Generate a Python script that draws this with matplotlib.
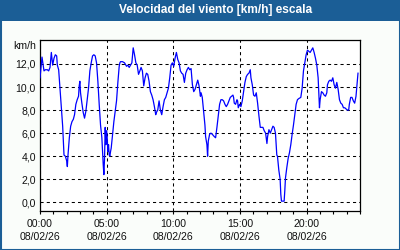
import matplotlib
matplotlib.use("Agg")
import matplotlib.pyplot as plt
from matplotlib.patches import Rectangle
from matplotlib.ticker import MultipleLocator, FixedLocator, FuncFormatter

title = "Velocidad del viento [km/h] escala"
unit_label = "km/h"
date_label = "08/02/26"

hours = [0.00, 0.15, 0.20, 0.30, 0.40, 0.55, 0.65, 0.75, 0.80, 0.85, 0.95, 1.05, 1.15, 1.25, 1.30,
         1.40, 1.50, 1.60, 1.70, 1.80, 1.90, 2.00, 2.05, 2.10, 2.20, 2.30, 2.40, 2.50, 2.59, 2.69,
         2.79, 2.89, 2.94, 2.99, 3.04, 3.14, 3.24, 3.34, 3.44, 3.54, 3.64, 3.74, 3.84, 3.94, 4.04,
         4.14, 4.24, 4.34, 4.44, 4.54, 4.64, 4.74, 4.79, 4.84, 4.89, 4.94, 4.99, 5.04, 5.09, 5.14,
         5.19, 5.24, 5.29, 5.34, 5.44, 5.54, 5.64, 5.74, 5.84, 5.94, 5.99,
         6.04, 6.19, 6.34, 6.49, 6.59, 6.69, 6.79, 6.89, 6.99, 7.09, 7.19, 7.29, 7.39, 7.49, 7.58,
         7.68, 7.78, 7.88, 7.98, 8.08, 8.18, 8.28, 8.38, 8.48, 8.58, 8.68, 8.73, 8.83, 8.93, 9.03,
         9.13, 9.23, 9.33, 9.43, 9.53, 9.63, 9.73, 9.83, 9.93, 10.03, 10.13, 10.23, 10.33, 10.43,
         10.53, 10.63, 10.73, 10.83, 10.93, 11.03, 11.13, 11.23, 11.33, 11.43, 11.53, 11.63, 11.73,
         11.83, 11.93, 12.03, 12.08, 12.17, 12.27, 12.37, 12.42, 12.52, 12.57, 12.62, 12.72, 12.82,
         12.92, 13.07, 13.17, 13.27, 13.37, 13.47, 13.57, 13.67, 13.77, 13.87, 13.97, 14.07, 14.17,
         14.27, 14.37, 14.47, 14.52, 14.57, 14.67, 14.77, 14.82, 14.87, 14.97, 15.07, 15.17, 15.27,
         15.37, 15.47, 15.57, 15.67, 15.77, 15.82, 15.92, 16.02, 16.12, 16.22, 16.32, 16.42, 16.52,
         16.62, 16.72, 16.82, 16.92, 17.02, 17.07, 17.17, 17.27, 17.37, 17.47, 17.56, 17.66, 17.76,
         17.81, 17.91, 18.01, 18.06, 18.11, 18.21, 18.31, 18.36, 18.41, 18.51, 18.61, 18.71, 18.81,
         18.91, 19.01, 19.11, 19.21, 19.31, 19.41, 19.56, 19.66, 19.76, 19.86, 19.96, 20.06, 20.16,
         20.26, 20.36, 20.46, 20.56, 20.66, 20.76, 20.86, 20.91, 20.96, 21.01, 21.11, 21.21, 21.31,
         21.41, 21.51, 21.56, 21.66, 21.76, 21.86, 21.96, 22.06, 22.16, 22.26, 22.36, 22.46, 22.56,
         22.66, 22.76, 22.86, 22.96, 23.05, 23.15, 23.20, 23.30, 23.40, 23.50, 23.60, 23.70, 23.75,
         23.80, 23.85]

wind = [10.8, 12.6, 12.2, 11.4, 11.5, 11.5, 11.4, 11.7, 12.4, 13.0, 11.9, 12.5, 12.8, 12.7, 11.9,
        11.5, 9.9, 8.2, 6.6, 4.1, 4.0, 3.6, 3.1, 4.1, 5.6, 6.6, 7.0, 7.2, 7.6, 8.5,
        8.9, 9.2, 10.1, 10.5, 9.5, 8.6, 7.8, 7.3, 7.9, 8.9, 9.9, 11.4, 12.1, 12.7, 12.8,
        12.7, 12.1, 10.5, 8.5, 6.7, 5.6, 3.3, 2.4, 3.8, 6.5, 5.0, 6.2, 5.6, 4.4, 5.0,
        4.1, 4.0, 4.4, 4.7, 5.9, 7.0, 7.9, 8.8, 10.4, 11.8, 12.1,
        12.2, 12.2, 12.1, 11.8, 11.9, 11.7, 11.9, 12.1, 13.4, 12.8, 12.1, 11.9, 11.1, 11.4, 11.7,
        11.4, 10.1, 10.8, 11.2, 11.1, 10.5, 9.6, 9.3, 8.9, 8.3, 7.6, 7.8, 8.0, 8.8, 8.0,
        7.6, 8.3, 8.9, 9.1, 9.5, 9.9, 10.8, 11.9, 12.1, 11.8, 12.5, 13.0, 12.4, 12.1,
        11.4, 11.2, 11.1, 10.4, 11.2, 11.5, 11.7, 11.5, 11.6, 10.2, 9.6, 9.8, 10.2,
        10.6, 10.1, 9.2, 9.5, 9.1, 7.9, 6.7, 5.7, 5.0, 4.0, 5.3, 5.9, 6.0,
        5.9, 5.7, 5.6, 6.5, 7.5, 8.5, 8.9, 8.9, 8.8, 8.5, 8.3, 8.5, 8.8,
        9.1, 9.2, 9.3, 9.1, 8.6, 8.5, 8.9, 8.8, 8.2, 8.5, 8.3, 8.8, 9.6,
        10.4, 10.9, 11.1, 11.2, 11.5, 10.8, 10.2, 9.3, 9.2, 9.5, 8.6, 7.5, 6.5,
        6.5, 6.5, 6.2, 6.0, 5.1, 5.7, 6.3, 6.0, 6.3, 6.6, 6.5, 6.0, 4.1,
        4.0, 2.8, 2.0, 0.7, 0.1, 0.1, 0.1, 1.0, 2.1, 3.0, 3.8, 4.3, 5.0,
        5.9, 6.7, 7.6, 8.5, 8.9, 9.0, 9.1, 9.9, 11.4, 12.1, 12.8, 13.2, 13.1,
        13.0, 13.2, 13.4, 13.0, 12.5, 11.9, 10.8, 9.6, 8.2, 8.9, 9.6, 9.5, 9.3,
        9.2, 9.5, 10.2, 10.5, 10.6, 10.5, 10.8, 10.2, 9.9, 10.4, 9.8, 8.9, 8.6,
        8.5, 8.2, 8.2, 8.1, 8.0, 8.0, 8.5, 9.1, 9.1, 8.8, 8.6, 9.2, 9.9,
        10.6, 11.2]

major_hours = [0, 5, 10, 15, 20]
y_ticks = [0, 2, 4, 6, 8, 10, 12]

FONT = "Liberation Sans"
W, H = 400, 250
fig = plt.figure(figsize=(4, 2.5), dpi=100, facecolor="#fafdfa")

# title bar and border
fig.patches.append(Rectangle((0, 1 - 20.5 / H), 1, 20.5 / H, transform=fig.transFigure,
                             facecolor="#1b5e96", edgecolor="none", zorder=0))
fig.patches.append(Rectangle((0.5 / W, 0.5 / H), 1 - 1.0 / W, 1 - 1.0 / H, transform=fig.transFigure,
                             facecolor="none", edgecolor="#1b5e96", linewidth=1.5, zorder=1))
fig.text(216 / W, 1 - 10.5 / H, title, color="white", fontsize=8.6, fontweight="bold",
         family=FONT, ha="center", va="center")

ax = fig.add_axes([40 / W, 1 - 210.7 / H, 320 / W, 170.7 / H])
ax.set_facecolor("white")
ax.plot(hours, wind, color="#0000ff", linewidth=0.9, zorder=3)

ax.set_xlim(0, 24)
ax.set_ylim(-0.73, 14.08)

ax.xaxis.set_major_locator(FixedLocator(major_hours))
ax.xaxis.set_minor_locator(MultipleLocator(1))
ax.xaxis.set_major_formatter(FuncFormatter(lambda v, p: f"{int(round(v)):02d}:00\n{date_label}"))
ax.yaxis.set_major_locator(FixedLocator(y_ticks))
ax.yaxis.set_major_formatter(FuncFormatter(lambda v, p: f"{v:.1f}".replace(".", ",")))

ax.tick_params(axis="x", which="both", direction="out", length=2.5, width=0.8, colors="black",
               labelsize=7.6, pad=3.5)
ax.tick_params(axis="y", which="both", length=0, labelsize=7.6, pad=3, colors="black")
for lab in ax.get_xticklabels() + ax.get_yticklabels():
    lab.set_family(FONT)
    lab.set_color("#111111")
for lab in ax.get_xticklabels():
    lab.set_linespacing(1.35)

ax.grid(True, which="major", axis="both", color="black", linewidth=0.75,
        linestyle=(0, (3, 3)), zorder=1)
for s in ax.spines.values():
    s.set_color("black")
    s.set_linewidth(0.9)

fig.text(36 / W, 1 - 46 / H, unit_label, fontsize=7.6, family=FONT, ha="right", va="center",
         color="#111111")

fig.savefig("out.png", dpi=100, facecolor=fig.get_facecolor())
